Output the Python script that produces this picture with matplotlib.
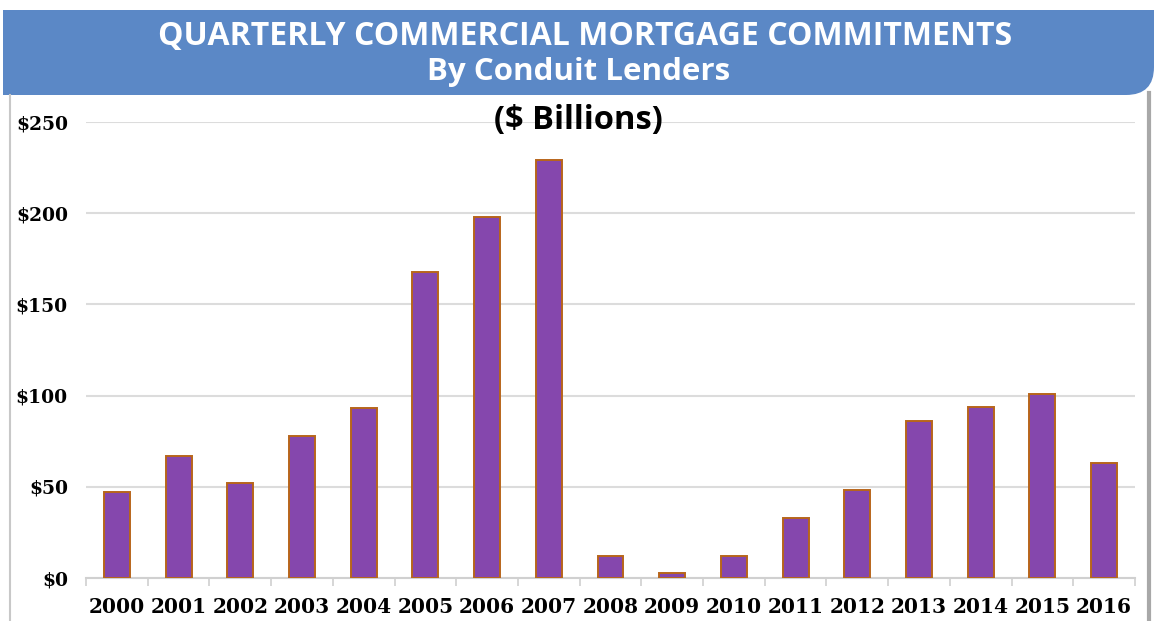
import matplotlib.pyplot as plt
from matplotlib.patches import Rectangle, FancyBboxPatch

years = ['2000', '2001', '2002', '2003', '2004', '2005', '2006', '2007', '2008',
         '2009', '2010', '2011', '2012', '2013', '2014', '2015', '2016']
commitments = [47, 67, 52, 78, 93, 168, 198, 229, 12, 3, 12, 33, 48, 86, 94, 101, 63]
yticks = [0, 50, 100, 150, 200, 250]
ytick_labels = ['$0', '$50', '$100', '$150', '$200', '$250']

W, H = 1154, 621
fig = plt.figure(figsize=(W / 100, H / 100), dpi=100)

# main bar chart
ax = fig.add_axes([86 / W, 1 - 578 / H, (1135 - 86) / W, (578 - 122) / H])
x = list(range(len(years)))
ax.bar(x, commitments, width=0.42, color='#8547ad', edgecolor='#b8651b',
       linewidth=1.4, zorder=3)
ax.set_xlim(-0.5, len(years) - 0.5)
ax.set_ylim(0, 250)
ax.set_yticks(yticks)
ax.set_yticklabels(ytick_labels, fontfamily='DejaVu Serif',
                   fontweight='bold', fontsize=13.5)
ax.set_xticks(x)
ax.set_xticklabels(years, fontfamily='DejaVu Serif', fontweight='bold',
                   fontsize=14.5)
ax.set_xticks([i - 0.5 for i in range(len(years) + 1)], minor=True)
ax.tick_params(axis='y', length=0, pad=13)
ax.tick_params(axis='x', which='major', length=0, pad=14)
ax.tick_params(axis='x', which='minor', length=6, color='#d0d0d0', width=1.2)
ax.grid(axis='y', color='#dcdcdc', linewidth=1.5, zorder=0)
ax.set_axisbelow(True)
for side in ['top', 'right', 'left']:
    ax.spines[side].set_visible(False)
ax.spines['bottom'].set_color('#d0d0d0')
ax.spines['bottom'].set_linewidth(1.5)
ax.patch.set_alpha(0)

# overlay in pixel coordinates for banner and frame
ov = fig.add_axes([0, 0, 1, 1], zorder=-1)
ov.set_xlim(0, W)
ov.set_ylim(H, 0)
ov.axis('off')

banner = '#5b88c6'
ov.add_patch(FancyBboxPatch((3, 10), W - 3, 85, boxstyle='round,pad=0,rounding_size=28',
                            facecolor=banner, edgecolor='none'))
ov.add_patch(Rectangle((3, 10), W - 3, 40, facecolor=banner, edgecolor='none'))
ov.add_patch(Rectangle((3, 10), W - 60, 85, facecolor=banner, edgecolor='none'))

ov.plot([10, 10], [95, H], color='#c8c8c8', linewidth=1.5)
ov.plot([1149, 1149], [93, H], color='#a8a8a8', linewidth=3)

ov.text(585, 36, 'QUARTERLY COMMERCIAL MORTGAGE COMMITMENTS', color='white',
        fontfamily='Open Sans', fontweight='bold', fontsize=23,
        ha='center', va='center')
ov.text(579, 72, 'By Conduit Lenders', color='white', fontfamily='Open Sans',
        fontweight='bold', fontsize=22.5, ha='center', va='center')

# units label sits on top of the gridlines
fig.text(578 / W, 1 - 121 / H, '($ Billions)', color='black', fontfamily='Open Sans',
         fontweight='bold', fontsize=23.5, ha='center', va='center', zorder=10)

fig.savefig('out.png', dpi=100)
